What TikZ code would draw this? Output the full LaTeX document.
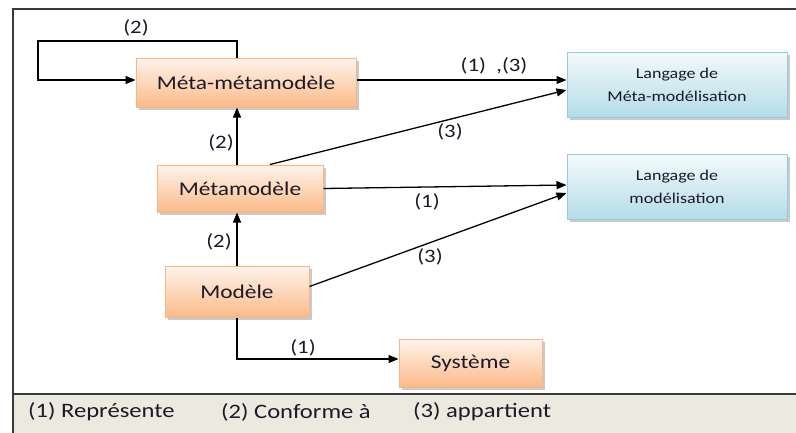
\documentclass[tikz,border=0pt]{standalone}
\usepackage{fontspec}
\setmainfont{Carlito}[FakeStretch=1.2]
\usetikzlibrary{arrows.meta,shadows,calc}

\definecolor{inkc}{HTML}{1A1A2A}
\definecolor{orgtop}{HTML}{FEF4EC}
\definecolor{orgbot}{HTML}{FBBA88}
\definecolor{orgline}{HTML}{F8B686}
\definecolor{blutop}{HTML}{F4FAFC}
\definecolor{blubot}{HTML}{B4DCE7}
\definecolor{bluline}{HTML}{95CBDB}
\definecolor{legfill}{HTML}{ECE9DF}
\definecolor{framec}{HTML}{3A3A3A}

\tikzset{
  levelbox/.style={draw=orgline, line width=1pt, top color=orgtop, bottom color=orgbot,
    drop shadow={shadow xshift=2.5pt, shadow yshift=-2.5pt, opacity=.35, fill=black!60},
    inner sep=0pt, text=inkc, font=\fontsize{19.5}{22}\selectfont},
  langbox/.style={draw=bluline, line width=1pt, top color=blutop, bottom color=blubot,
    drop shadow={shadow xshift=2.5pt, shadow yshift=-2.5pt, opacity=.35, fill=black!60},
    inner sep=0pt, text=inkc, align=center, font=\fontsize{15}{23}\selectfont,
    minimum width=220pt, minimum height=65pt},
  rel/.style={draw=black, line width=1.3pt, -{Triangle[length=10pt,width=8pt]}},
  tag/.style={text=inkc, inner sep=0pt, font=\fontsize{19}{22}\selectfont},
  legend/.style={text=inkc, inner sep=0pt, anchor=west, font=\fontsize{20.5}{24}\selectfont}
}

\begin{document}
\begin{tikzpicture}[x=1pt,y=-1pt]
  \useasboundingbox (0,0) rectangle (796,432);
  \begin{scope}
    \clip (0,0) rectangle (796,432);
    % frame and legend band
    \fill[legfill] (13,394) rectangle (800,436);
    \draw[framec, line width=2pt] (13,436) -- (13,9) -- (800,9);
    \draw[framec, line width=2pt] (13,394) -- (800,394);
  \end{scope}

  % level boxes
  \node[levelbox, minimum width=220pt, minimum height=49pt] (mmm) at (246,82.5) {Méta-métamodèle};
  \node[levelbox, minimum width=166pt, minimum height=47pt] (mm) at (240,188.5) {Métamodèle};
  \node[levelbox, minimum width=144pt, minimum height=51pt] (mod) at (237,291.5) {Modèle};
  \node[levelbox, minimum width=143pt, minimum height=48pt] (sys) at (470.5,363) {Système};

  % language boxes
  \node[langbox] (lmm) at (677,84.5) {Langage de\\Méta-modélisation};
  \node[langbox] (lm) at (677,186.5) {Langage de\\modélisation};

  % loop corner of the conformance arrow on the top level
  \coordinate (loopc) at (38,41);

  % conformance (2)
  \draw[rel] (mod.north) -- (mod.north |- mm.south);
  \draw[rel] (mod.north |- mm.north) -- (mod.north |- mmm.south);
  \draw[rel] (mod.north |- mmm.north) |- (loopc) |- ([yshift=2.5pt]mmm.west);

  % representation (1) and membership (3)
  \draw[rel] ([yshift=2.5pt]mmm.east) -- ([yshift=2.5pt]mmm.east -| lmm.west);
  \draw[rel] ([xshift=30pt]mm.north) -- ([yshift=-5.5pt]lmm.west);
  \draw[rel] (mm.east) -- ([yshift=1.5pt]lm.west);
  \draw[rel] ([yshift=5pt]mod.east) -- ([yshift=-6.5pt]lm.west);
  \draw[rel] (mod.south) |- ([yshift=4pt]sys.west);

  % connector labels
  \node[tag] (t1) at (136,28) {(2)};
  \node[tag] (t2) at (221,143) {(2)};
  \node[tag] (t3) at (219,242) {(2)};
  \node[tag] (t4) at (494,66) {(1)\ \ ,(3)};
  \node[tag] (t5) at (450,132) {(3)};
  \node[tag] (t6) at (427,202) {(1)};
  \node[tag] (t7) at (430,257) {(3)};
  \node[tag] (t8) at (303,348) {(1)};

  % legend
  \node[legend] (l1) at (28,412) {(1) Représente};
  \node[legend] (l2) at (221,412) {(2) Conforme à};
  \node[legend] (l3) at (413,412) {(3) appartient};
\end{tikzpicture}
\end{document}
